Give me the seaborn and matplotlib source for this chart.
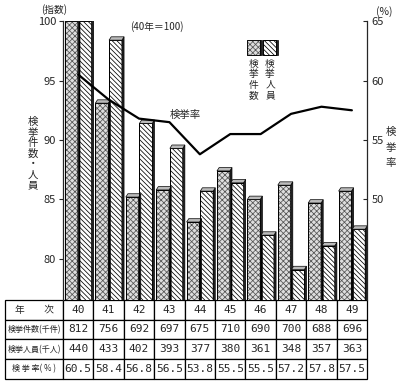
import numpy as np
import pandas as pd
import seaborn as sns
import matplotlib.pyplot as plt
from matplotlib.patches import Polygon, Rectangle

# -----------------------------------
# Data
# -----------------------------------
years = ["40", "41", "42", "43", "44", "45", "46", "47", "48", "49"]
cases_idx = [100.0, 93.1, 85.2, 85.8, 83.1, 87.4, 85.0, 86.2, 84.7, 85.7]
persons_idx = [100.0, 98.4, 91.4, 89.3, 85.7, 86.4, 82.0, 79.1, 81.1, 82.5]
rate = [60.5, 58.4, 56.8, 56.5, 53.8, 55.5, 55.5, 57.2, 57.8, 57.5]

cases_k = [812, 756, 692, 697, 675, 710, 690, 700, 688, 696]
persons_k = [440, 433, 402, 393, 377, 380, 361, 348, 357, 363]
rate_txt = ["60.5", "58.4", "56.8", "56.5", "53.8", "55.5", "55.5", "57.2", "57.8", "57.5"]

series_names = ["検挙件数", "検挙人員"]
row_labels = ["年　　次", "検挙件数(千件)", "検挙人員(千人)", "検 挙 率( % )"]

sns.set_theme(style="ticks")
plt.rcParams["font.family"] = ["Noto Sans CJK JP", "DejaVu Sans"]
plt.rcParams["hatch.linewidth"] = 0.55

df = pd.DataFrame({
    "year": years * 2,
    "series": [series_names[0]] * len(years) + [series_names[1]] * len(years),
    "value": cases_idx + persons_idx,
})

# -----------------------------------
# Figure
# -----------------------------------
fig = plt.figure(figsize=(3.99, 3.84), dpi=100)
ax = fig.add_axes([0.158, 0.219, 0.762, 0.726])

sns.barplot(
    data=df, x="year", y="value", hue="series",
    palette=["#d0d0d0", "white"], width=0.9, gap=0.06,
    edgecolor="black", linewidth=0.7, legend=False, ax=ax,
)

# (face, hatch, hatch/edge colour)
styles = [("#dedede", "xxxxxx", "#555555"), ("white", "\\\\\\\\\\\\\\", "black")]
dx, dy = 0.07, 0.28
for cont, (fc, hatch, ec) in zip(ax.containers, styles):
    for bar in cont:
        bar.set_facecolor(fc)
        bar.set_hatch(hatch)
        bar.set_edgecolor(ec)
        x0, w, h = bar.get_x(), bar.get_width(), bar.get_height()
        z = bar.get_zorder()
        # outline in black, pseudo 3D right side and top cap
        ax.add_patch(Rectangle((x0, 0), w, h, fill=False, edgecolor="black", lw=0.7, zorder=z))
        ax.add_patch(Polygon(
            [(x0 + w, 0), (x0 + w, h), (x0 + w + dx, h + dy), (x0 + w + dx, 0)],
            closed=True, facecolor="#222222", edgecolor="black", lw=0.5, zorder=z))
        ax.add_patch(Polygon(
            [(x0, h), (x0 + w, h), (x0 + w + dx, h + dy), (x0 + dx, h + dy)],
            closed=True, facecolor="#bbbbbb", edgecolor="black", lw=0.5, zorder=z))

ax.set_xlim(-0.5, 9.5)
ax.set_ylim(76.55, 100)
ax.set_yticks([80, 85, 90, 95, 100])
ax.set_xticks([])
ax.set_xlabel("")
ax.set_ylabel("")
ax.tick_params(axis="y", length=3, width=0.8, labelsize=8, pad=2)
for s in ["top", "right", "bottom"]:
    ax.spines[s].set_visible(False)
ax.spines["left"].set_linewidth(0.9)

# -----------------------------------
# Rate line on the right axis
# -----------------------------------
ax2 = ax.twinx()
sns.lineplot(x=np.arange(len(years)), y=rate, ax=ax2, color="black", lw=1.6)
ax2.set_xlim(-0.5, 9.5)
ax2.set_ylim(41.55, 65)
ax2.set_yticks([50, 55, 60, 65])
ax2.tick_params(axis="y", direction="in", length=3, width=0.8, labelsize=8, pad=3)
for s in ["top", "left", "bottom"]:
    ax2.spines[s].set_visible(False)
ax2.spines["right"].set_linewidth(0.9)
ax2.text(0.352, 0.663, "検挙率", transform=ax2.transAxes, fontsize=7.5, va="center")

# -----------------------------------
# Legend (hand made boxes with vertical labels)
# -----------------------------------
for i, ((fc, hatch, ec), name) in enumerate(zip(styles, series_names)):
    lx = 0.605 + i * 0.053
    ax2.add_patch(Rectangle((lx, 0.878), 0.042, 0.054, transform=ax2.transAxes,
                            facecolor=fc, hatch=hatch, edgecolor=ec, lw=0.6, clip_on=False))
    ax2.add_patch(Rectangle((lx, 0.878), 0.042, 0.054, transform=ax2.transAxes,
                            fill=False, edgecolor="black", lw=0.6, clip_on=False))
    ax2.add_patch(Rectangle((lx + 0.042, 0.878), 0.008, 0.054, transform=ax2.transAxes,
                            facecolor="#222222", edgecolor="black", lw=0.5, clip_on=False))
    ax2.text(lx + 0.023, 0.865, "\n".join(name), transform=ax2.transAxes,
             fontsize=7, ha="center", va="top", linespacing=1.05)

# -----------------------------------
# Labels
# -----------------------------------
fig.text(0.135, 0.974, "(指数)", fontsize=7, ha="center", va="center")
fig.text(0.326, 0.93, "(40年＝100)", fontsize=7, va="center")
fig.text(0.962, 0.969, "(%)", fontsize=7.5, ha="center", va="center")
fig.text(0.083, 0.6, "\n".join("検挙件数・人員"), fontsize=7.5, ha="center", va="center", linespacing=1.05)
fig.text(0.98, 0.615, "\n".join("検挙率"), fontsize=7.5, ha="center", va="center", linespacing=1.7)

# -----------------------------------
# Table below the plot
# -----------------------------------
cell_text = [
    [row_labels[0]] + years,
    [row_labels[1]] + [str(v) for v in cases_k],
    [row_labels[2]] + [str(v) for v in persons_k],
    [row_labels[3]] + rate_txt,
]
tbl = ax.table(cellText=cell_text, cellLoc="center",
               colWidths=[0.191] + [0.1] * len(years),
               bbox=[-0.191, -0.283, 1.191, 0.283])
tbl.auto_set_font_size(False)
tbl.set_fontsize(8)
for (r, c), cell in tbl.get_celld().items():
    cell.set_linewidth(0.9)
    cell.set_edgecolor("black")
    txt = cell.get_text()
    if c == 0:
        txt.set_fontsize(5.8 if r > 0 else 7)
    else:
        txt.set_fontfamily(["DejaVu Sans Mono"])
        txt.set_fontsize(8)

plt.savefig("out.png", dpi=100)
